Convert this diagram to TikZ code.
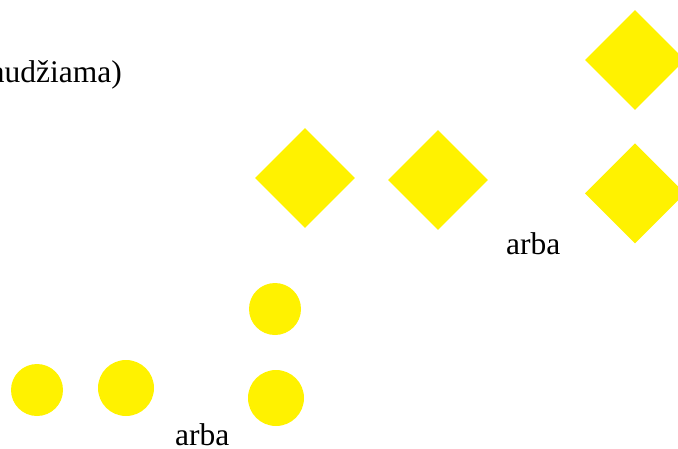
\documentclass[tikz,border=0pt]{standalone}
\usepackage{fontspec}
\setmainfont{Liberation Serif}
\usetikzlibrary{positioning,shapes.geometric}
\definecolor{geltona}{RGB}{255,242,0}

\begin{document}
\begin{tikzpicture}[x=1pt, y=-1pt]
  \tikzset{
    rombas/.style={diamond, fill=geltona, inner sep=0pt, minimum width=100pt, minimum height=100pt},
    rutulys/.style={circle, fill=geltona, inner sep=0pt, minimum size=#1},
    rutulys/.default=54pt,
    zodis/.style={font=\fontsize{31.5}{36}\selectfont, inner sep=0pt}
  }
  \useasboundingbox (0,0) rectangle (678,448);

  \node[zodis, anchor=base east] (antraste) at (122,82) {audžiama)};

  \node[rombas] (rombasA) at (305,178) {};
  \node[rombas] (rombasB) at (438,180) {};
  \node[rombas] (rombasC) at (635,60) {};
  \node[rombas, below=33pt of rombasC] (rombasD) {};
  \node[zodis, anchor=base west] (arbaA) at (506,254) {arba};

  \node[rutulys=52pt] (rutulysA) at (37,390) {};
  \node[rutulys=56pt] (rutulysB) at (126,388) {};
  \node[rutulys=52pt] (rutulysC) at (275,309) {};
  \node[rutulys=56pt] (rutulysD) at (276,398) {};
  \node[zodis, anchor=base west] (arbaB) at (175,445) {arba};
\end{tikzpicture}
\end{document}
